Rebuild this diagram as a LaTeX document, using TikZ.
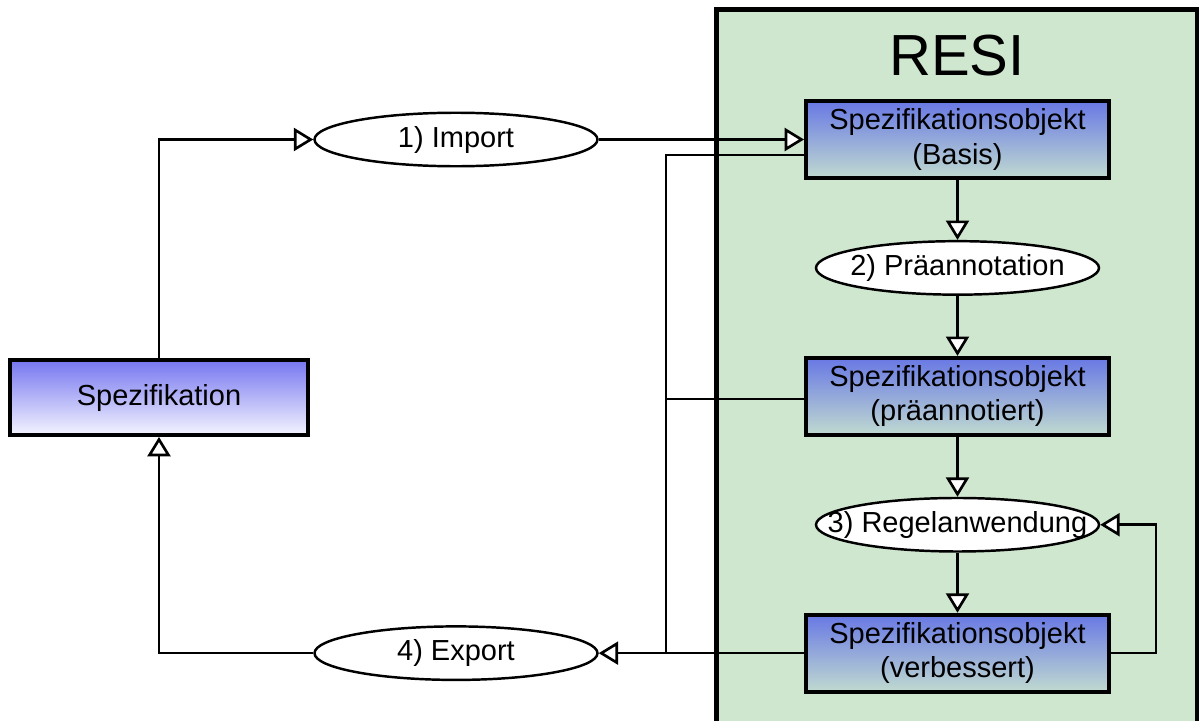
\documentclass[tikz,border=0pt]{standalone}
\usepackage{fontspec}
\setmainfont{Liberation Sans}
\usetikzlibrary{
  positioning,
  shapes.geometric,
  arrows.meta
}
\usepackage{xcolor}
\definecolor{resigreen}{RGB}{207,230,207}
\definecolor{specblue}{RGB}{118,118,240}
\definecolor{specwhite}{RGB}{244,244,255}
\definecolor{objblue}{RGB}{104,120,228}
\definecolor{objgrey}{RGB}{192,218,208}
\tikzstyle{flowline}  = [line width=1.5pt]
\tikzstyle{flowarrow} = [line width=1.5pt,-{Triangle[fill=white,length=11pt,width=13pt]}]

\begin{document}
\begin{tikzpicture}[
font=\fontsize{16.5}{19.5}\selectfont,
node distance=1.2cm,
specnode/.style={rectangle, draw, line width=2.2pt, top color=specblue, bottom color=specwhite, minimum width=5.96cm, minimum height=1.5cm},
objnode/.style={rectangle, draw, line width=2.2pt, top color=objblue, bottom color=objgrey, minimum width=6.06cm, minimum height=1.54cm, align=center, inner sep=0pt},
stepnode/.style={ellipse, draw, line width=1.4pt, fill=white, minimum width=5.66cm, minimum height=1.07cm, inner sep=0pt},
]
\useasboundingbox (0,0) rectangle (24.04,-14.4);

%Frame
\draw[line width=2.8pt, fill=resigreen] (14.33,-0.19) rectangle (23.94,-15);
\node (resi) at (19.14,-1.12) {\fontsize{33}{36}\selectfont RESI};

%Nodes
\node[objnode]   (obj1) at (19.15,-2.79) {Spezifikationsobjekt\\(Basis)};
\node[stepnode]  (pre)  [below=of obj1] {\makebox[0pt]{2) Präannotation}};
\node[objnode]   (obj2) [below=of pre]  {Spezifikationsobjekt\\(präannotiert)};
\node[stepnode]  (rule) [below=of obj2] {\makebox[0pt]{3) Regelanwendung}};
\node[objnode]   (obj3) [below=of rule] {Spezifikationsobjekt\\(verbessert)};

\node[specnode]  (spec) at (3.18,-7.95) {Spezifikation};
\node[stepnode]  (imp)  at (9.12,-2.79) {\makebox[0pt]{1) Import}};
\node[stepnode]  (exp)  at (imp |- obj3) {\makebox[0pt]{4) Export}};
\coordinate      (jn)   at (13.32,0);

%Lines
\draw[flowarrow] (spec.north) |- (imp.west);
\draw[flowarrow] (imp.east) -- (obj1.west);
\draw[flowarrow] (obj1.south) -- (pre.north);
\draw[flowarrow] (pre.south) -- (obj2.north);
\draw[flowarrow] (obj2.south) -- (rule.north);
\draw[flowarrow] (rule.south) -- (obj3.north);
\draw[flowarrow] (obj3.east) -- ++(0.9,0) |- (rule.east);
\draw[flowline]  ([yshift=-0.31cm]obj1.west) -| (jn |- obj3.west);
\draw[flowline]  ([yshift=-0.05cm]obj2.west) -| (jn |- obj3.west);
\draw[flowarrow] (obj3.west) -- (exp.east);
\draw[flowarrow] (exp.west) -| (spec.south);
\end{tikzpicture}
\end{document}
